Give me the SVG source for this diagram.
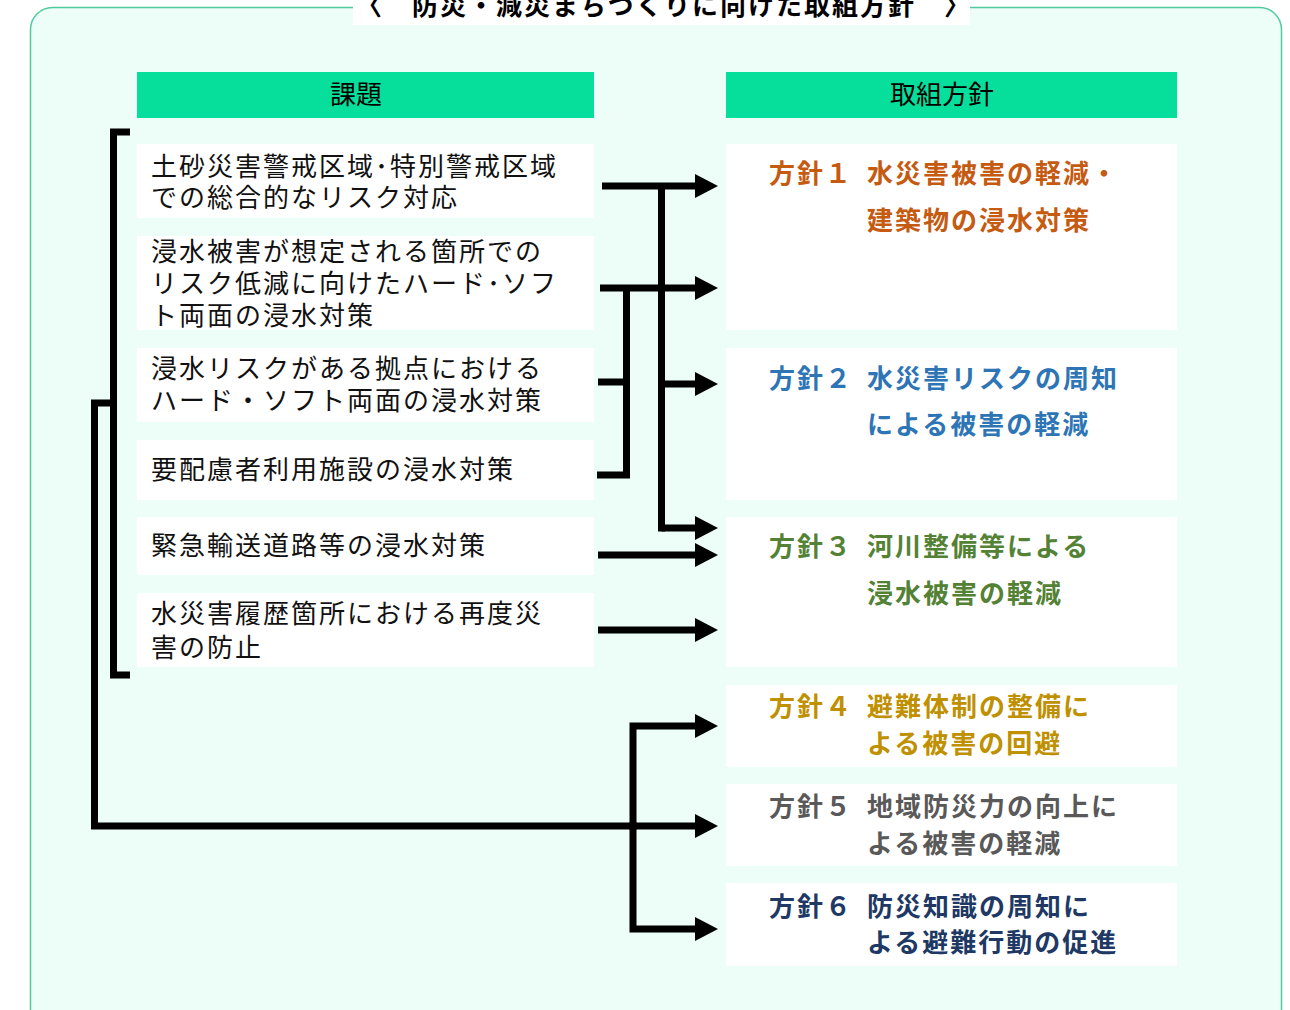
<svg xmlns="http://www.w3.org/2000/svg" width="1290" height="1010" viewBox="0 0 1290 1010">
<defs>
<style>
.frame{fill:#edfdf7;stroke:#4fcc9d;stroke-width:1.5}
.hdr{fill:#05df9b}
.box{fill:#ffffff}
.ht{font-family:"Noto Sans CJK JP","Noto Sans",sans-serif;font-size:26px;fill:#000;text-anchor:middle}
.lt{font-family:"Noto Sans CJK JP","Noto Sans",sans-serif;font-size:26px;letter-spacing:2px;fill:#111}
.rt{font-family:"Noto Sans CJK JP","Noto Sans",sans-serif;font-size:26px;font-weight:bold;letter-spacing:2px}
.tt{font-family:"Noto Sans CJK JP","Noto Sans",sans-serif;font-size:26px;font-weight:bold;letter-spacing:2px;fill:#000}
.c1{fill:#c55a11}.c2{fill:#2e75b6}.c3{fill:#548235}.c4{fill:#bf9000}.c5{fill:#595959}.c6{fill:#203864}
.ln{fill:none;stroke:#000;stroke-width:7;stroke-linejoin:miter;stroke-linecap:butt}
.ar{marker-end:url(#ah)}
</style>
<marker id="ah" markerWidth="24" markerHeight="24" refX="1" refY="12" markerUnits="userSpaceOnUse" orient="auto">
<path d="M0,0 L23,12 L0,24 z" fill="#000"/>
</marker>
</defs>

<rect class="frame" x="30.5" y="7.5" width="1251" height="1025" rx="22"/>
<g id="title">
<rect x="353" y="0" width="617" height="25" fill="#ffffff"/>
<text class="tt" x="356" y="15">〈　防災・減災まちづくりに向けた取組方針　〉</text>
</g>

<g id="hdr-issues">
<rect class="hdr" x="137" y="72" width="457" height="46"/>
<text class="ht" x="356" y="104">課題</text>
</g>
<g id="hdr-policy">
<rect class="hdr" x="726" y="72" width="451" height="46"/>
<text class="ht" x="942" y="104">取組方針</text>
</g>

<g id="issue1">
<rect class="box" x="137" y="144" width="457" height="74"/>
<text class="lt" x="151" y="176">土砂災害警戒区域･特別警戒区域</text>
<text class="lt" x="151" y="207">での総合的なリスク対応</text>
</g>
<g id="issue2">
<rect class="box" x="137" y="236" width="457" height="94"/>
<text class="lt" x="151" y="261">浸水被害が想定される箇所での</text>
<text class="lt" x="151" y="293">リスク低減に向けたハード･ソフ</text>
<text class="lt" x="151" y="325">ト両面の浸水対策</text>
</g>
<g id="issue3">
<rect class="box" x="137" y="348" width="457" height="74"/>
<text class="lt" x="151" y="378">浸水リスクがある拠点における</text>
<text class="lt" x="151" y="410">ハード・ソフト両面の浸水対策</text>
</g>
<g id="issue4">
<rect class="box" x="137" y="440" width="457" height="60"/>
<text class="lt" x="151" y="479">要配慮者利用施設の浸水対策</text>
</g>
<g id="issue5">
<rect class="box" x="137" y="517" width="457" height="58"/>
<text class="lt" x="151" y="555">緊急輸送道路等の浸水対策</text>
</g>
<g id="issue6">
<rect class="box" x="137" y="593" width="457" height="74"/>
<text class="lt" x="151" y="623">水災害履歴箇所における再度災</text>
<text class="lt" x="151" y="657">害の防止</text>
</g>

<g id="policy1">
<rect class="box" x="726" y="144" width="451" height="186"/>
<text class="rt c1" x="769" y="183">方針１</text>
<text class="rt c1" x="867" y="183">水災害被害の軽減・</text>
<text class="rt c1" x="867" y="230">建築物の浸水対策</text>
</g>
<g id="policy2">
<rect class="box" x="726" y="348" width="451" height="152"/>
<text class="rt c2" x="769" y="388">方針２</text>
<text class="rt c2" x="867" y="388">水災害リスクの周知</text>
<text class="rt c2" x="867" y="434">による被害の軽減</text>
</g>
<g id="policy3">
<rect class="box" x="726" y="517" width="451" height="150"/>
<text class="rt c3" x="769" y="556">方針３</text>
<text class="rt c3" x="867" y="556">河川整備等による</text>
<text class="rt c3" x="867" y="603">浸水被害の軽減</text>
</g>
<g id="policy4">
<rect class="box" x="726" y="685" width="451" height="82"/>
<text class="rt c4" x="769" y="716">方針４</text>
<text class="rt c4" x="867" y="716">避難体制の整備に</text>
<text class="rt c4" x="867" y="753">よる被害の回避</text>
</g>
<g id="policy5">
<rect class="box" x="726" y="784" width="451" height="82"/>
<text class="rt c5" x="769" y="816">方針５</text>
<text class="rt c5" x="867" y="816">地域防災力の向上に</text>
<text class="rt c5" x="867" y="853">よる被害の軽減</text>
</g>
<g id="policy6">
<rect class="box" x="726" y="883" width="451" height="83"/>
<text class="rt c6" x="769" y="916">方針６</text>
<text class="rt c6" x="867" y="916">防災知識の周知に</text>
<text class="rt c6" x="867" y="952">よる避難行動の促進</text>
</g>

<g id="connectors">
<polyline class="ln" points="130,132 113.5,132 113.5,675 130,675"/>
<polyline class="ln ar" points="113.5,403 94.5,403 94.5,826 696,826"/>
<line class="ln ar" x1="602" y1="186" x2="696" y2="186"/>
<line class="ln" x1="661.5" y1="186" x2="661.5" y2="531.5"/>
<line class="ln ar" x1="600" y1="288" x2="696" y2="288"/>
<line class="ln ar" x1="661.5" y1="384" x2="696" y2="384"/>
<polyline class="ln ar" points="661.5,528 696,528"/>
<polyline class="ln" points="626.5,288 626.5,475 597,475"/>
<line class="ln" x1="598" y1="382" x2="626.5" y2="382"/>
<line class="ln ar" x1="598" y1="555" x2="696" y2="555"/>
<line class="ln ar" x1="598" y1="630" x2="696" y2="630"/>
<polyline class="ln ar" points="633,830 633,726 696,726"/>
<polyline class="ln ar" points="633,822 633,929 696,929"/>
</g>
</svg>
